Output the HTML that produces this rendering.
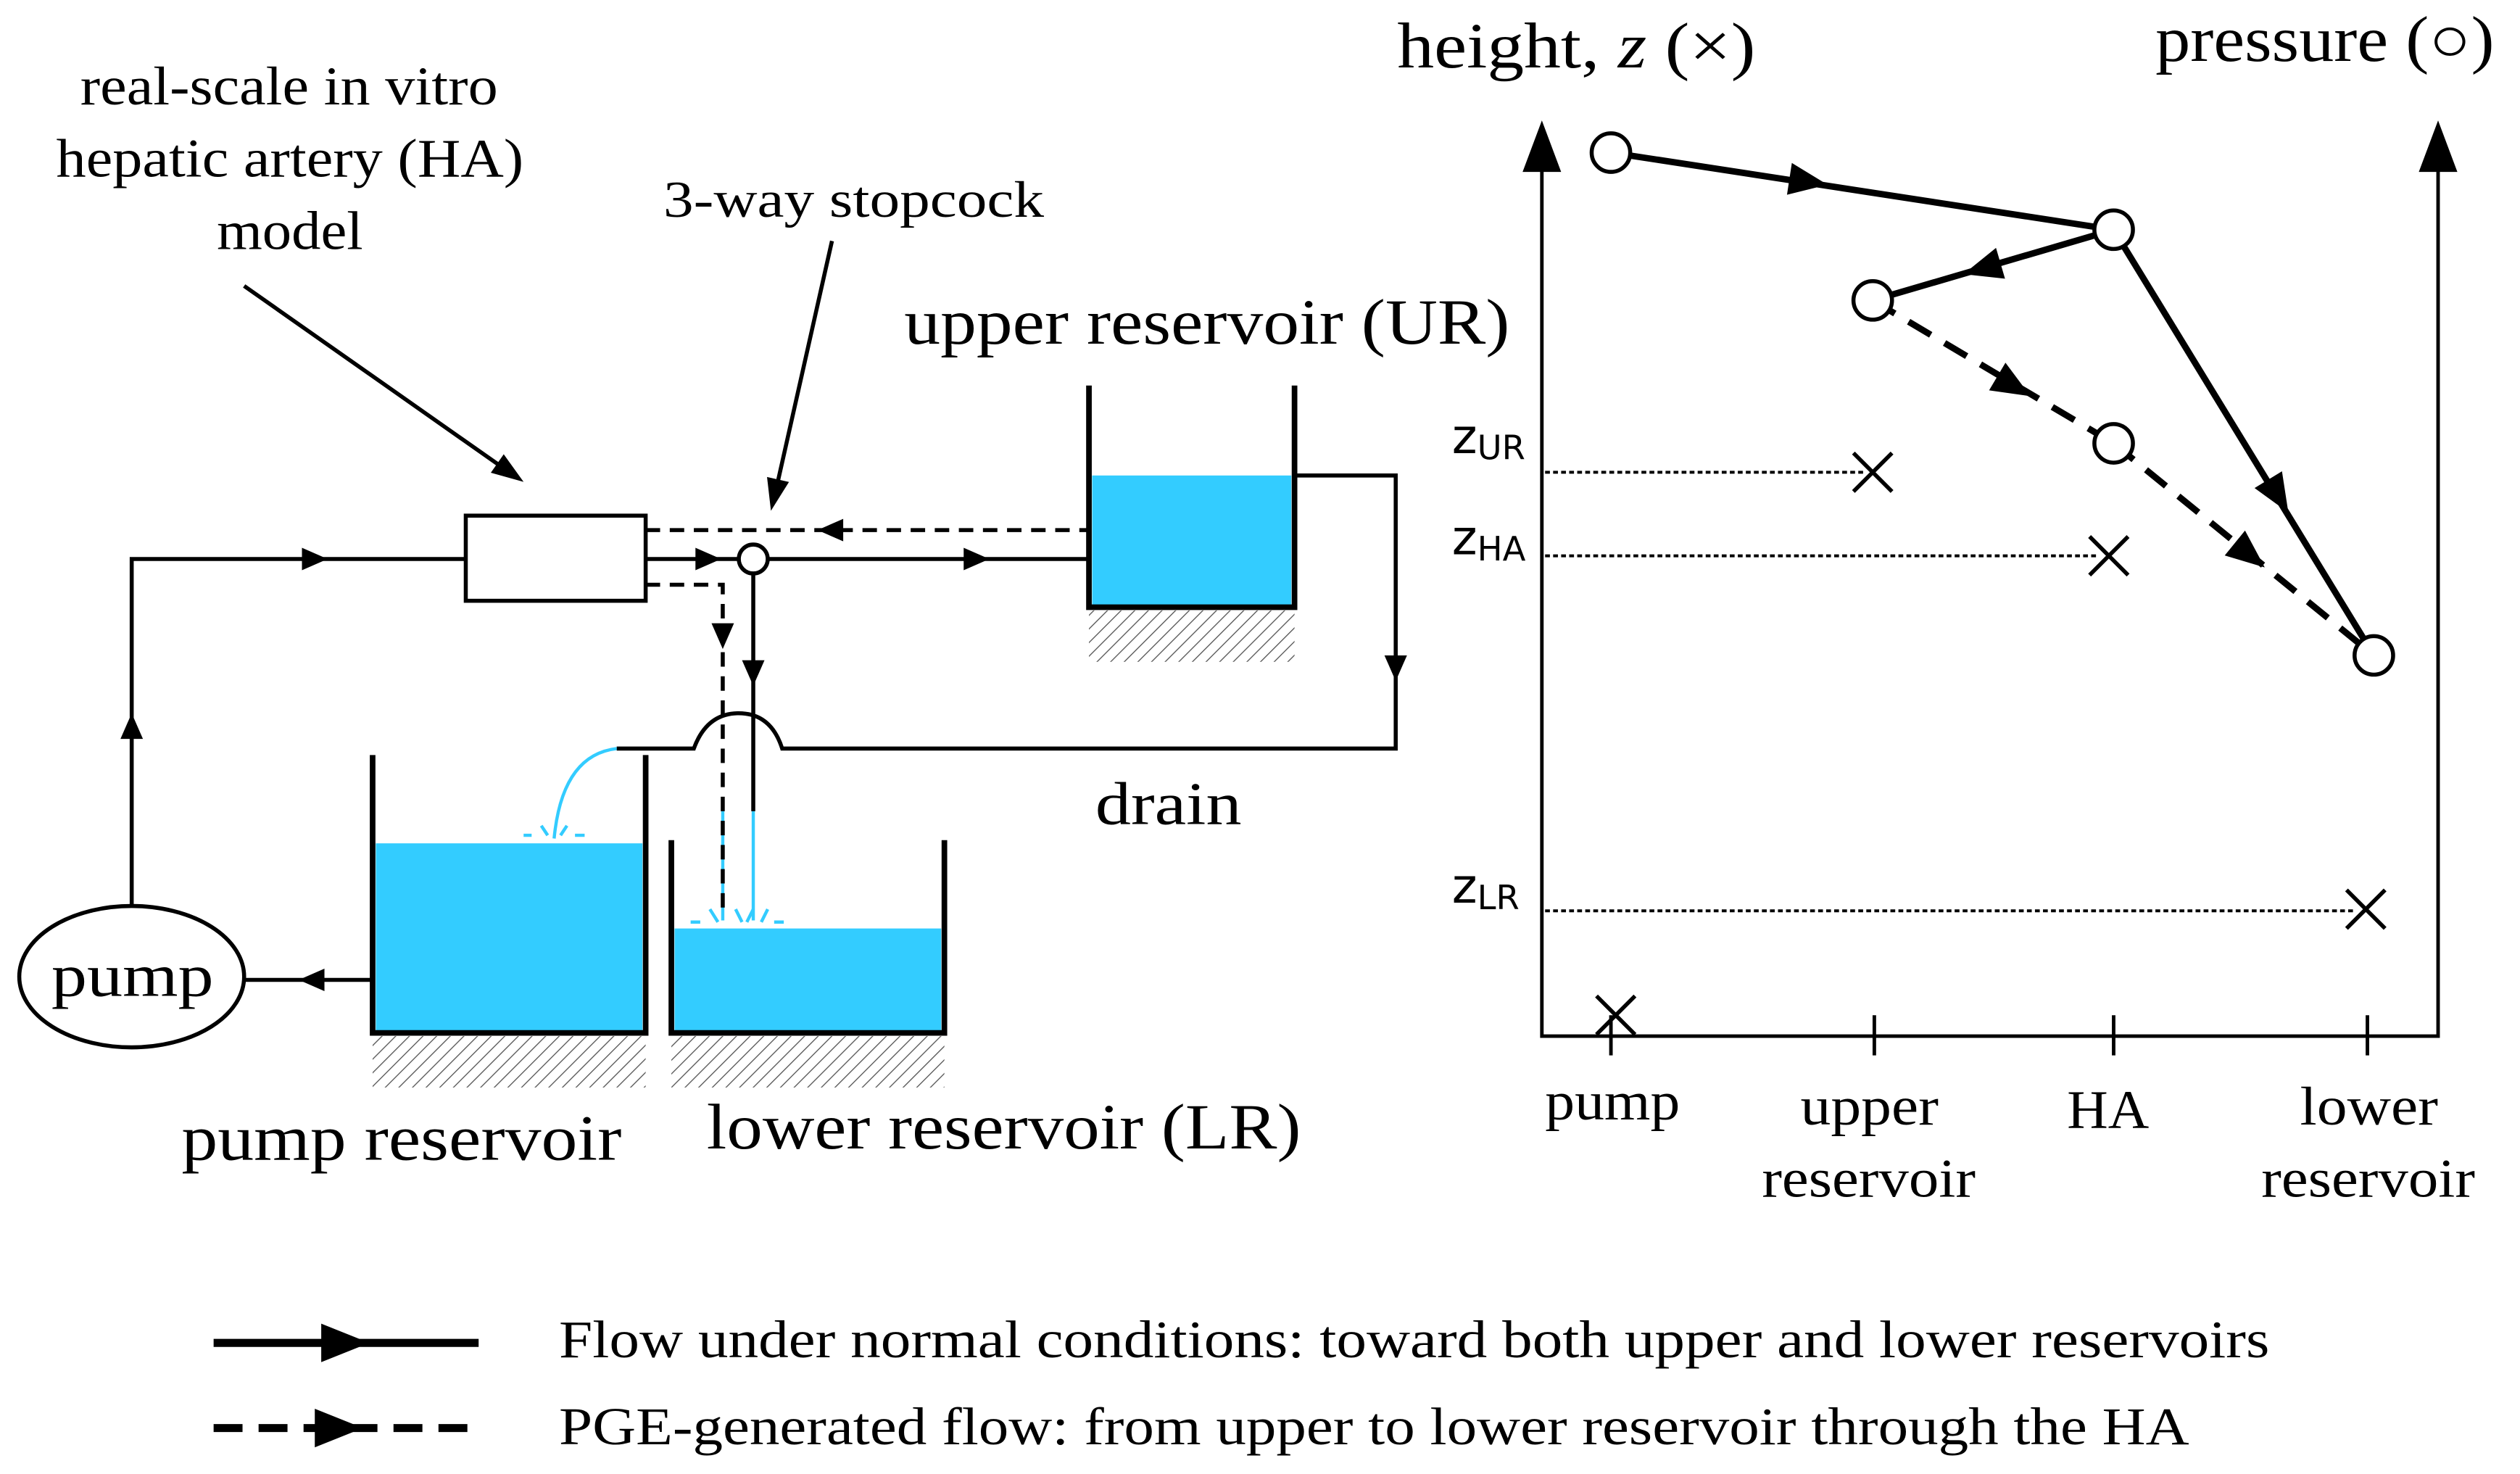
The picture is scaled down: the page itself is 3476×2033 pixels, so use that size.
<!DOCTYPE html>
<html><head><meta charset="utf-8"><style>html,body{margin:0;padding:0;background:#fff}svg{display:block}</style></head>
<body>
<svg width="3476" height="2033" viewBox="0 0 1569 917.6" preserveAspectRatio="none" xmlns="http://www.w3.org/2000/svg">
<defs>
<pattern id="h" width="6" height="6" patternUnits="userSpaceOnUse" patternTransform="rotate(45)"><line x1="0" y1="0" x2="0" y2="6" stroke="#555" stroke-width="1.2"/></pattern>
</defs>
<g style="font-family:'Liberation Serif',serif" fill="#000">
<text x="50" y="65" font-size="34" textLength="260" lengthAdjust="spacingAndGlyphs">real-scale in vitro</text>
<text x="35" y="110" font-size="34" textLength="291" lengthAdjust="spacingAndGlyphs">hepatic artery (HA)</text>
<text x="135" y="155" font-size="34" textLength="91" lengthAdjust="spacingAndGlyphs">model</text>
<text x="413" y="135" font-size="32" textLength="237" lengthAdjust="spacingAndGlyphs">3-way stopcock</text>
<text x="563" y="214" font-size="40" textLength="377" lengthAdjust="spacingAndGlyphs">upper reservoir (UR)</text>
<text x="682" y="513" font-size="38" textLength="91" lengthAdjust="spacingAndGlyphs">drain</text>
<text x="113" y="722" font-size="40" textLength="274" lengthAdjust="spacingAndGlyphs">pump reservoir</text>
<text x="440" y="715" font-size="40" textLength="370" lengthAdjust="spacingAndGlyphs">lower reservoir (LR)</text>
<text x="32" y="620" font-size="38" textLength="101" lengthAdjust="spacingAndGlyphs">pump</text>
<text x="870" y="42" font-size="40" textLength="223" lengthAdjust="spacingAndGlyphs">height, <tspan font-style="italic">z</tspan> (×)</text>
<text x="1342" y="38" font-size="40" textLength="211" lengthAdjust="spacingAndGlyphs">pressure (○)</text>
<text x="962" y="697" font-size="34" textLength="84" lengthAdjust="spacingAndGlyphs">pump</text>
<text x="1121" y="700" font-size="34" textLength="86" lengthAdjust="spacingAndGlyphs">upper</text>
<text x="1097" y="745" font-size="34" textLength="133" lengthAdjust="spacingAndGlyphs">reservoir</text>
<text x="1287" y="702" font-size="34" textLength="51" lengthAdjust="spacingAndGlyphs">HA</text>
<text x="1432" y="700" font-size="34" textLength="86" lengthAdjust="spacingAndGlyphs">lower</text>
<text x="1408" y="745" font-size="34" textLength="133" lengthAdjust="spacingAndGlyphs">reservoir</text>
<text x="348" y="845" font-size="33" textLength="1065" lengthAdjust="spacingAndGlyphs">Flow under normal conditions: toward both upper and lower reservoirs</text>
<text x="348" y="899" font-size="33" textLength="1015" lengthAdjust="spacingAndGlyphs">PGE-generated flow: from upper to lower reservoir through the HA</text>
</g>
<g style="font-family:'DejaVu Sans',sans-serif" fill="#000" font-size="30">
<text x="904" y="282">z<tspan font-size="21" dy="4">UR</tspan></text>
<text x="904" y="345">z<tspan font-size="21" dy="4">HA</tspan></text>
<text x="904" y="562">z<tspan font-size="21" dy="4">LR</tspan></text>
</g>
<g fill="#33ccff">
<rect x="680" y="296" width="124" height="82"/>
<rect x="234" y="525" width="166" height="118"/>
<rect x="420" y="578" width="166" height="65"/>
</g>
<g fill="url(#h)">
<rect x="678" y="380" width="128" height="32"/>
<rect x="232" y="645" width="170" height="32"/>
<rect x="418" y="645" width="170" height="32"/>
</g>
<g stroke="#33ccff" stroke-width="2" fill="none">
<path d="M384,466 Q350,470 345,522"/>
<line x1="450" y1="505" x2="450" y2="573"/><line x1="469" y1="505" x2="469" y2="573"/>
<path d="M326,520 h5 M337,514 l4,6 M353,514 l-4,6 M358,520 h6" />
<path d="M430,574 h6 M442,566 l5,8 M458,566 l4,8 M465,574 l4,-8 M478,566 l-4,8 M482,574 h6"/>
</g>
<g stroke="#000" fill="none" stroke-width="3.5">
<path d="M678,240 V378 H806 V240"/>
<path d="M232,470 V643 H402 V470"/>
<path d="M418,523 V643 H588 V523"/>
</g>
<g stroke="#000" fill="none" stroke-width="2.5">
<line x1="152" y1="178" x2="320" y2="296"/>
<line x1="518" y1="150" x2="482" y2="310"/>
<rect x="290" y="321" width="112" height="53"/>
<path d="M82,565 V348 H290"/>
<path d="M402,348 H460"/>
<path d="M478,348 H678"/>
<path d="M469,357 V505"/>
<path d="M806,296 H869 V466 H487 Q480,444 460,444 Q440,444 432,466 H384"/>
<path d="M232,610 H152"/>
<ellipse cx="82" cy="608" rx="70" ry="44"/>
<circle cx="469" cy="348" r="9" fill="#fff"/>
</g>
<g stroke="#000" fill="none" stroke-width="2.5" stroke-dasharray="9,6">
<path d="M402,330 H678"/>
<path d="M402,364 H450 V568"/>
</g>
<g fill="#000">
<path d="M0,0 L-20,-7 L-20,7z" transform="translate(326,300) rotate(35)"/>
<path d="M0,0 L-20,-7 L-20,7z" transform="translate(480,318) rotate(102.7)"/>
<g id="fa">
<path d="M-7,-7 L9,0 L-7,7z" transform="translate(195,348)"/>
<path d="M-7,-7 L9,0 L-7,7z" transform="translate(82,453) rotate(-90)"/>
<path d="M-7,-7 L9,0 L-7,7z" transform="translate(440,348)"/>
<path d="M-7,-7 L9,0 L-7,7z" transform="translate(607,348)"/>
<path d="M-7,-7 L9,0 L-7,7z" transform="translate(518,330) rotate(180)"/>
<path d="M-7,-7 L9,0 L-7,7z" transform="translate(450,395) rotate(90)"/>
<path d="M-7,-7 L9,0 L-7,7z" transform="translate(469,418) rotate(90)"/>
<path d="M-7,-7 L9,0 L-7,7z" transform="translate(869,415) rotate(90)"/>
<path d="M-7,-7 L9,0 L-7,7z" transform="translate(195,610) rotate(180)"/>
</g>
</g>
<g stroke="#000" stroke-width="2.2" fill="none">
<path d="M960,100 V645 H1518 V100"/>
<path d="M1003,632 V657 M1167,632 V657 M1316,632 V657 M1474,632 V657"/>
</g>
<path d="M948,107 L960,75 L972,107 z M1506,107 L1518,75 L1530,107 z" fill="#000"/>
<g stroke="#000" stroke-width="1.8" stroke-dasharray="3,2">
<line x1="962" y1="294" x2="1160" y2="294"/>
<line x1="962" y1="346" x2="1307" y2="346"/>
<line x1="962" y1="567" x2="1467" y2="567"/>
</g>
<g stroke="#000" stroke-width="2.5">
<path d="M1154,282 l24,24 M1178,282 l-24,24"/>
<path d="M1301,334 l24,24 M1325,334 l-24,24"/>
<path d="M1461,554 l24,24 M1485,554 l-24,24"/>
<path d="M994,620 l24,24 M1018,620 l-24,24"/>
</g>
<g stroke="#000" stroke-width="4" fill="none">
<line x1="1003" y1="95" x2="1316" y2="143"/>
<line x1="1316" y1="143" x2="1166" y2="187"/>
<line x1="1316" y1="143" x2="1478" y2="408"/>
</g>
<g stroke="#000" stroke-width="4" fill="none" stroke-dasharray="16,10">
<line x1="1166" y1="187" x2="1316" y2="276"/>
<line x1="1316" y1="276" x2="1478" y2="408"/>
</g>
<g fill="#000">
<path d="M-11,-10 L13,0 L-11,10z" transform="translate(1125,113) rotate(8.7)"/>
<path d="M-11,-10 L13,0 L-11,10z" transform="translate(1235,167) rotate(163.7)"/>
<path d="M-11,-10 L13,0 L-11,10z" transform="translate(1418,308) rotate(58.6)"/>
<path d="M-11,-10 L13,0 L-11,10z" transform="translate(1253,240) rotate(30.7)"/>
<path d="M-11,-10 L13,0 L-11,10z" transform="translate(1400,345) rotate(39.2)"/>
</g>
<g stroke="#000" stroke-width="2.5" fill="#fff">
<circle cx="1003" cy="95" r="12"/><circle cx="1316" cy="143" r="12"/>
<circle cx="1166" cy="187" r="12"/><circle cx="1316" cy="276" r="12"/>
<circle cx="1478" cy="408" r="12"/>
</g>
<line x1="133" y1="836" x2="298" y2="836" stroke="#000" stroke-width="5"/>
<path d="M200,824 L230,836 L200,848 z" fill="#000"/>
<line x1="133" y1="889" x2="298" y2="889" stroke="#000" stroke-width="5" stroke-dasharray="18,10"/>
<path d="M196,877 L226,889 L196,901 z" fill="#000"/>
</svg>
</body></html>
